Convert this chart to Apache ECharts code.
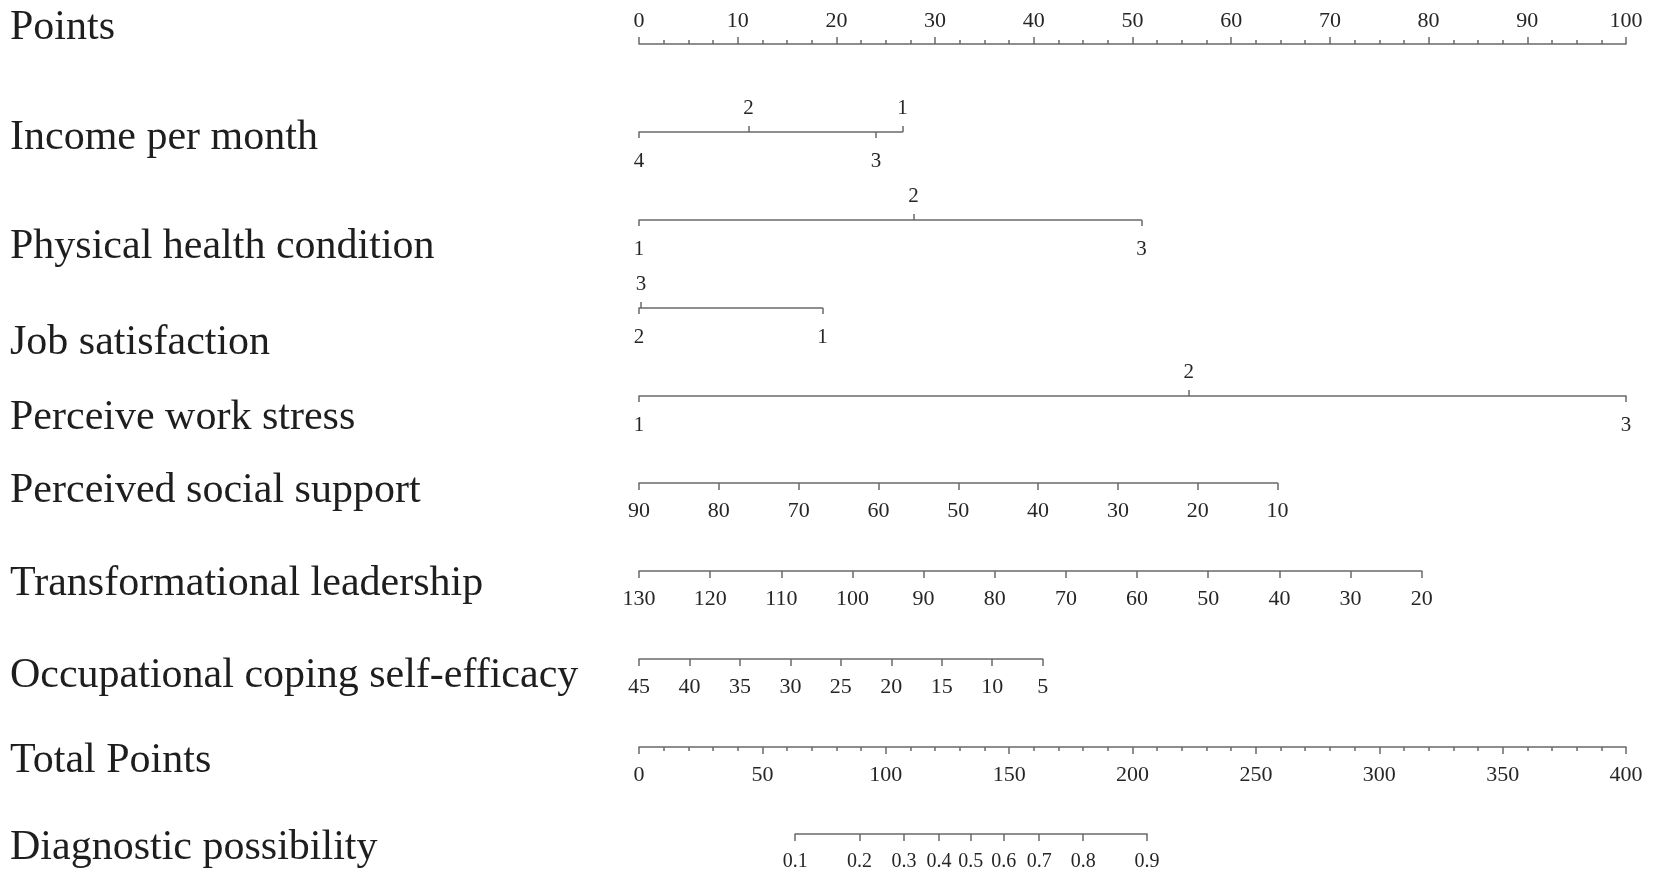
<!DOCTYPE html>
<html>
<head>
<meta charset="utf-8">
<title>Nomogram</title>
<script src="https://cdn.jsdelivr.net/npm/echarts@6/dist/echarts.min.js"></script>
<style>
  html, body { margin: 0; padding: 0; background: #fff; }
  #main { width: 1654px; height: 879px; }
</style>
</head>
<body>
<div id="main"></div>
<script type="text/javascript">
// ---- data ----
var rowNames = ['Points', 'Income per month', 'Physical health condition', 'Job satisfaction',
    'Perceive work stress', 'Perceived social support', 'Transformational leadership',
    'Occupational coping self-efficacy', 'Total Points', 'Diagnostic possibility'];

// points scale (top axis)
var pointsMin = 0, pointsMax = 100, pointsStep = 10;

// categorical predictors: level label, points, label above/below the line
var incomeLevels = ['4', '2', '3', '1'];
var incomePoints = [0, 11.1, 24.0, 26.7];
var incomeSide   = ['below', 'above', 'below', 'above'];

var healthLevels = ['1', '2', '3'];
var healthPoints = [0, 27.8, 50.9];
var healthSide   = ['below', 'above', 'below'];

var jobLevels = ['2', '3', '1'];
var jobPoints = [0, 0.2, 18.6];
var jobSide   = ['below', 'above', 'below'];

var stressLevels = ['1', '2', '3'];
var stressPoints = [0, 55.7, 100];
var stressSide   = ['below', 'above', 'below'];

// continuous predictors: [low, high], step, points reached at the low end
var supportRange = [10, 90], supportStep = 10, supportMaxPoints = 64.7;
var leaderRange  = [20, 130], leaderStep = 10, leaderMaxPoints = 79.3;
var copingRange  = [5, 45], copingStep = 5, copingMaxPoints = 40.9;

// total points and risk
var totalMin = 0, totalMax = 400, totalStep = 50;
var diagLabels = ['0.1', '0.2', '0.3', '0.4', '0.5', '0.6', '0.7', '0.8', '0.9'];
var diagTotals = [63.3, 89.4, 107.4, 121.6, 134.4, 147.8, 162.2, 180.0, 205.9];

// ---- layout ----
var L = 639, W = 987;                 // pixel span of 0..100 points
var lineY  = [44, 132, 220, 308, 396, 483, 571, 659, 747, 834];
var titleY = [28, 138, 247, 343, 418, 491, 584, 676, 761, 848];

var lineColor = '#6a6a6a';
var textColor = '#262626';
var font = 'Liberation Serif';

var grids = [], xAxes = [], yAxes = [];

function addGrid(y, p0, p1) {
    grids.push({ left: L + W * p0 / 100, top: y, width: W * (p1 - p0) / 100, height: 0 });
    var gi = grids.length - 1;
    yAxes.push({ gridIndex: gi, type: 'value', min: 0, max: 1, show: false });
    return gi;
}

function axisBase(gi, position, margin, size) {
    return {
        gridIndex: gi,
        type: 'value',
        position: position,
        axisLine: { show: true, onZero: false, lineStyle: { color: lineColor, width: 1.5 } },
        axisTick: { show: true, length: 7, lineStyle: { color: lineColor, width: 1.5 } },
        axisLabel: { show: true, margin: margin, color: textColor, fontFamily: font, fontSize: size,
            showMinLabel: true, showMaxLabel: true },
        splitLine: { show: false }
    };
}

// categorical row: one axis for labels above, one for labels below
function addLevels(y, levels, pts, side) {
    var p0 = Math.min.apply(null, pts), p1 = Math.max.apply(null, pts);
    var gi = addGrid(y, p0, p1);
    ['above', 'below'].forEach(function (s) {
        var vals = [];
        for (var i = 0; i < pts.length; i++) {
            if (side[i] === s) vals.push(pts[i]);
        }
        var ax = axisBase(gi, s === 'above' ? 'top' : 'bottom', s === 'above' ? 13 : 19, 21);
        ax.min = p0;
        ax.max = p1;
        ax.axisLine.show = (s === 'below');
        ax.axisTick.length = 6;
        ax.axisTick.customValues = vals;
        ax.axisLabel.customValues = vals;
        ax.axisLabel.formatter = function (v) { return levels[pts.indexOf(v)]; };
        xAxes.push(ax);
    });
}

// continuous row, high values on the left
function addRange(y, range, step, maxPoints) {
    var gi = addGrid(y, 0, maxPoints);
    var ax = axisBase(gi, 'bottom', 17, 22);
    ax.min = range[0];
    ax.max = range[1];
    ax.interval = step;
    ax.inverse = true;
    xAxes.push(ax);
}

// Points
(function () {
    var gi = addGrid(lineY[0], 0, 100);
    var ax = axisBase(gi, 'top', 12, 22);
    ax.min = pointsMin;
    ax.max = pointsMax;
    ax.interval = pointsStep;
    ax.minorTick = { show: true, splitNumber: 4, length: 4, lineStyle: { color: lineColor, width: 1.5 } };
    xAxes.push(ax);
})();

addLevels(lineY[1], incomeLevels, incomePoints, incomeSide);
addLevels(lineY[2], healthLevels, healthPoints, healthSide);
addLevels(lineY[3], jobLevels, jobPoints, jobSide);
addLevels(lineY[4], stressLevels, stressPoints, stressSide);

addRange(lineY[5], supportRange, supportStep, supportMaxPoints);
addRange(lineY[6], leaderRange, leaderStep, leaderMaxPoints);
addRange(lineY[7], copingRange, copingStep, copingMaxPoints);

// Total Points
(function () {
    var gi = addGrid(lineY[8], 0, 100);
    var ax = axisBase(gi, 'bottom', 17, 22);
    ax.min = totalMin;
    ax.max = totalMax;
    ax.interval = totalStep;
    ax.minorTick = { show: true, splitNumber: 5, length: 4, lineStyle: { color: lineColor, width: 1.5 } };
    xAxes.push(ax);
})();

// Diagnostic possibility, placed on the total points scale
(function () {
    var t0 = diagTotals[0], t1 = diagTotals[diagTotals.length - 1];
    var gi = addGrid(lineY[9], t0 * 100 / totalMax, t1 * 100 / totalMax);
    var ax = axisBase(gi, 'bottom', 18, 20);
    ax.min = t0;
    ax.max = t1;
    ax.axisTick.customValues = diagTotals;
    ax.axisLabel.customValues = diagTotals;
    ax.axisLabel.formatter = function (v) { return diagLabels[diagTotals.indexOf(v)]; };
    xAxes.push(ax);
})();

var titles = rowNames.map(function (name, i) {
    return {
        type: 'text',
        x: 10,
        y: titleY[i],
        style: { text: name, fontFamily: font, fontSize: 42, fill: '#1e1e1e', verticalAlign: 'middle' }
    };
});

var myChart = echarts.init(document.getElementById('main'));
myChart.setOption({
    backgroundColor: '#fff',
    animation: false,
    grid: grids,
    xAxis: xAxes,
    yAxis: yAxes,
    graphic: titles,
    series: []
});
</script>
</body>
</html>
